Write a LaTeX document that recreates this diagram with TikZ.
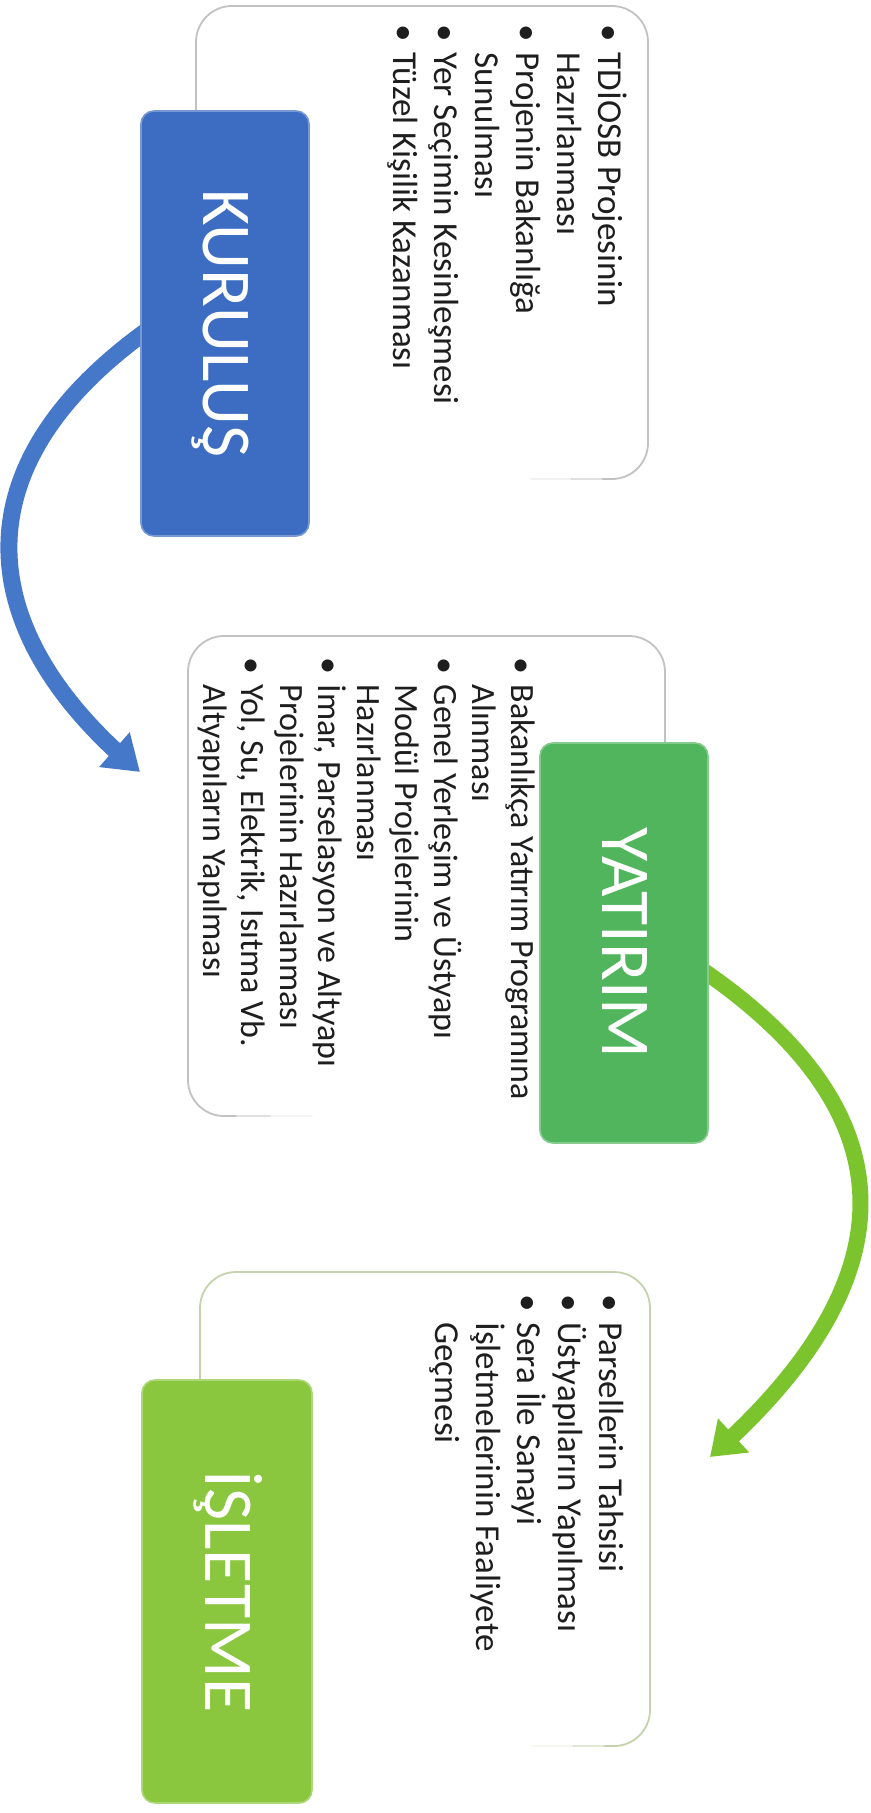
\documentclass[tikz,border=0pt]{standalone}
\usepackage{fontspec}
\setmainfont{Carlito}
\usetikzlibrary{arrows.meta,bending,calc}
\pgfdeclarelayer{bg}
\pgfdeclarelayer{arrowlayer}
\pgfsetlayers{bg,arrowlayer,main}
\definecolor{kblue}{HTML}{3C6DC2}
\definecolor{ygreen}{HTML}{50B55C}
\definecolor{lgreen}{HTML}{8AC63E}
\definecolor{ablue}{HTML}{4678CA}
\definecolor{agreen}{HTML}{7CC42E}
\definecolor{bordgray}{HTML}{C2C2C2}
\definecolor{bordgreen}{HTML}{C6D2AE}
\definecolor{txt}{HTML}{1E1E1E}
\newcommand{\bul}{\makebox[0.8em][l]{\textbullet}}
\newcommand{\ind}{\hspace*{0.8em}}
\begin{document}
\begin{tikzpicture}[x=0.5pt,y=-0.5pt,
  panel/.style={fill=white, draw=none, rounded corners=18pt, inner sep=0pt, outer sep=0pt},
  bord/.style={draw=bordgray, line width=0.9pt, line cap=round},
  stage/.style={rounded corners=6.5pt, inner sep=0pt, outer sep=0pt, line width=0.8pt},
  ttl/.style={text=white, font=\fontsize{35pt}{42pt}\selectfont, inner sep=0pt, rotate=-90, anchor=base},
  itemsA/.style={text=txt, font=\fontsize{17.5pt}{20.5pt}\selectfont, align=left, inner sep=0pt, rotate=-90, anchor=north west},
  itemsB/.style={text=txt, font=\fontsize{17pt}{19.25pt}\selectfont, align=left, inner sep=0pt, rotate=-90, anchor=north west},
  flowb/.style={draw=ablue, line width=8.5pt, -{Triangle[width=22pt,length=17pt]}},
  flowg/.style={draw=agreen, line width=8pt, -{Triangle[width=22pt,length=16pt]}},
]
\begin{pgfonlayer}{bg}
\fill[white] (0,0) rectangle (871,1813);
\end{pgfonlayer}
\useasboundingbox (0,0) rectangle (871,1813);

% white panels
\node[panel, minimum width=226pt, minimum height=236.5pt] (p1) at (422,242.5) {};
\node[panel, minimum width=238.5pt, minimum height=240pt] (p2) at (426.5,876) {};
\node[panel, minimum width=225pt, minimum height=237pt] (p3) at (425,1509) {};

% panel borders (fading bottom edges)
\draw[bord, rounded corners=18pt] (p1.south west) -- (p1.north west) -- (p1.north east) -- (p1.south east) -- ($(p1.south east)!0.1!(p1.south west)$);
\draw[bord, draw opacity=0.5] ($(p1.south east)!0.1!(p1.south west)$) -- ($(p1.south east)!0.17!(p1.south west)$);
\draw[bord, draw opacity=0.2] ($(p1.south east)!0.17!(p1.south west)$) -- ($(p1.south east)!0.26!(p1.south west)$);

\draw[bord, rounded corners=18pt] ($(p2.south west)!0.1!(p2.south east)$) -- (p2.south west) -- (p2.north west) -- (p2.north east) -- (p2.south east);
\draw[bord, draw opacity=0.5] ($(p2.south west)!0.1!(p2.south east)$) -- ($(p2.south west)!0.17!(p2.south east)$);
\draw[bord, draw opacity=0.2] ($(p2.south west)!0.17!(p2.south east)$) -- ($(p2.south west)!0.26!(p2.south east)$);

\draw[bord, draw=bordgreen, rounded corners=18pt] (p3.south west) -- (p3.north west) -- (p3.north east) -- (p3.south east) -- ($(p3.south east)!0.1!(p3.south west)$);
\draw[bord, draw=bordgreen, draw opacity=0.5] ($(p3.south east)!0.1!(p3.south west)$) -- ($(p3.south east)!0.17!(p3.south west)$);
\draw[bord, draw=bordgreen, draw opacity=0.2] ($(p3.south east)!0.17!(p3.south west)$) -- ($(p3.south east)!0.26!(p3.south west)$);

% bullet texts
\node[itemsA] (t1) at (627.7,24.5) {\strut\bul TDİOSB Projesinin\\
\ind Hazırlanması\\
\bul Projenin Bakanlığa\\
\ind Sunulması\\
\bul Yer Seçimin Kesinleşmesi\\
\bul Tüzel Kişilik Kazanması};

\node[itemsB] (t2) at (538.7,657) {\strut\bul Bakanlıkça Yatırım Programına\\
\ind Alınması\\
\bul Genel Yerleşim ve Üstyapı\\
\ind Modül Projelerinin\\
\ind Hazırlanması\\
\bul İmar, Parselasyon ve Altyapı\\
\ind Projelerinin Hazırlanması\\
\bul Yol, Su, Elektrik, Isıtma Vb.\\
\ind Altyapıların Yapılması};

\node[itemsA] (t3) at (628.7,1294) {\strut\bul Parsellerin Tahsisi\\
\bul Üstyapıların Yapılması\\
\bul Sera İle Sanayi\\
\ind İşletmelerinin Faaliyete\\
\ind Geçmesi};

% stage boxes
\node[stage, fill=kblue, draw=kblue!70!white, minimum width=84pt, minimum height=212.5pt] (kur) at (225,323.5) {};
\node[stage, fill=ygreen, draw=ygreen!70!white, minimum width=84pt, minimum height=200pt] (grn) at (624,943) {};
\node[stage, fill=lgreen, draw=lgreen!70!white, minimum width=85pt, minimum height=211.5pt] (isl) at (227,1591.5) {};

\node[ttl] (kurt) at ($(kur.center)+(-22,0)$) {KURULUŞ};
\node[ttl] (grnt) at ($(grn.center)+(-22,0)$) {YATIRIM};
\node[ttl] (islt) at ($(isl.center)+(-22,0)$) {İŞLETME};

% arrows
\coordinate (a1) at (140,772);
\coordinate (a2) at (710,1457);
\begin{pgfonlayer}{arrowlayer}
\draw[flowb] ([xshift=8pt]kur.west) .. controls (-55,470) and (-20,640) .. (a1);
\draw[flowg] ([xshift=-8pt,yshift=-10pt]grn.east) .. controls (878,1086) and (945,1250) .. (a2);
\end{pgfonlayer}
\end{tikzpicture}
\end{document}
